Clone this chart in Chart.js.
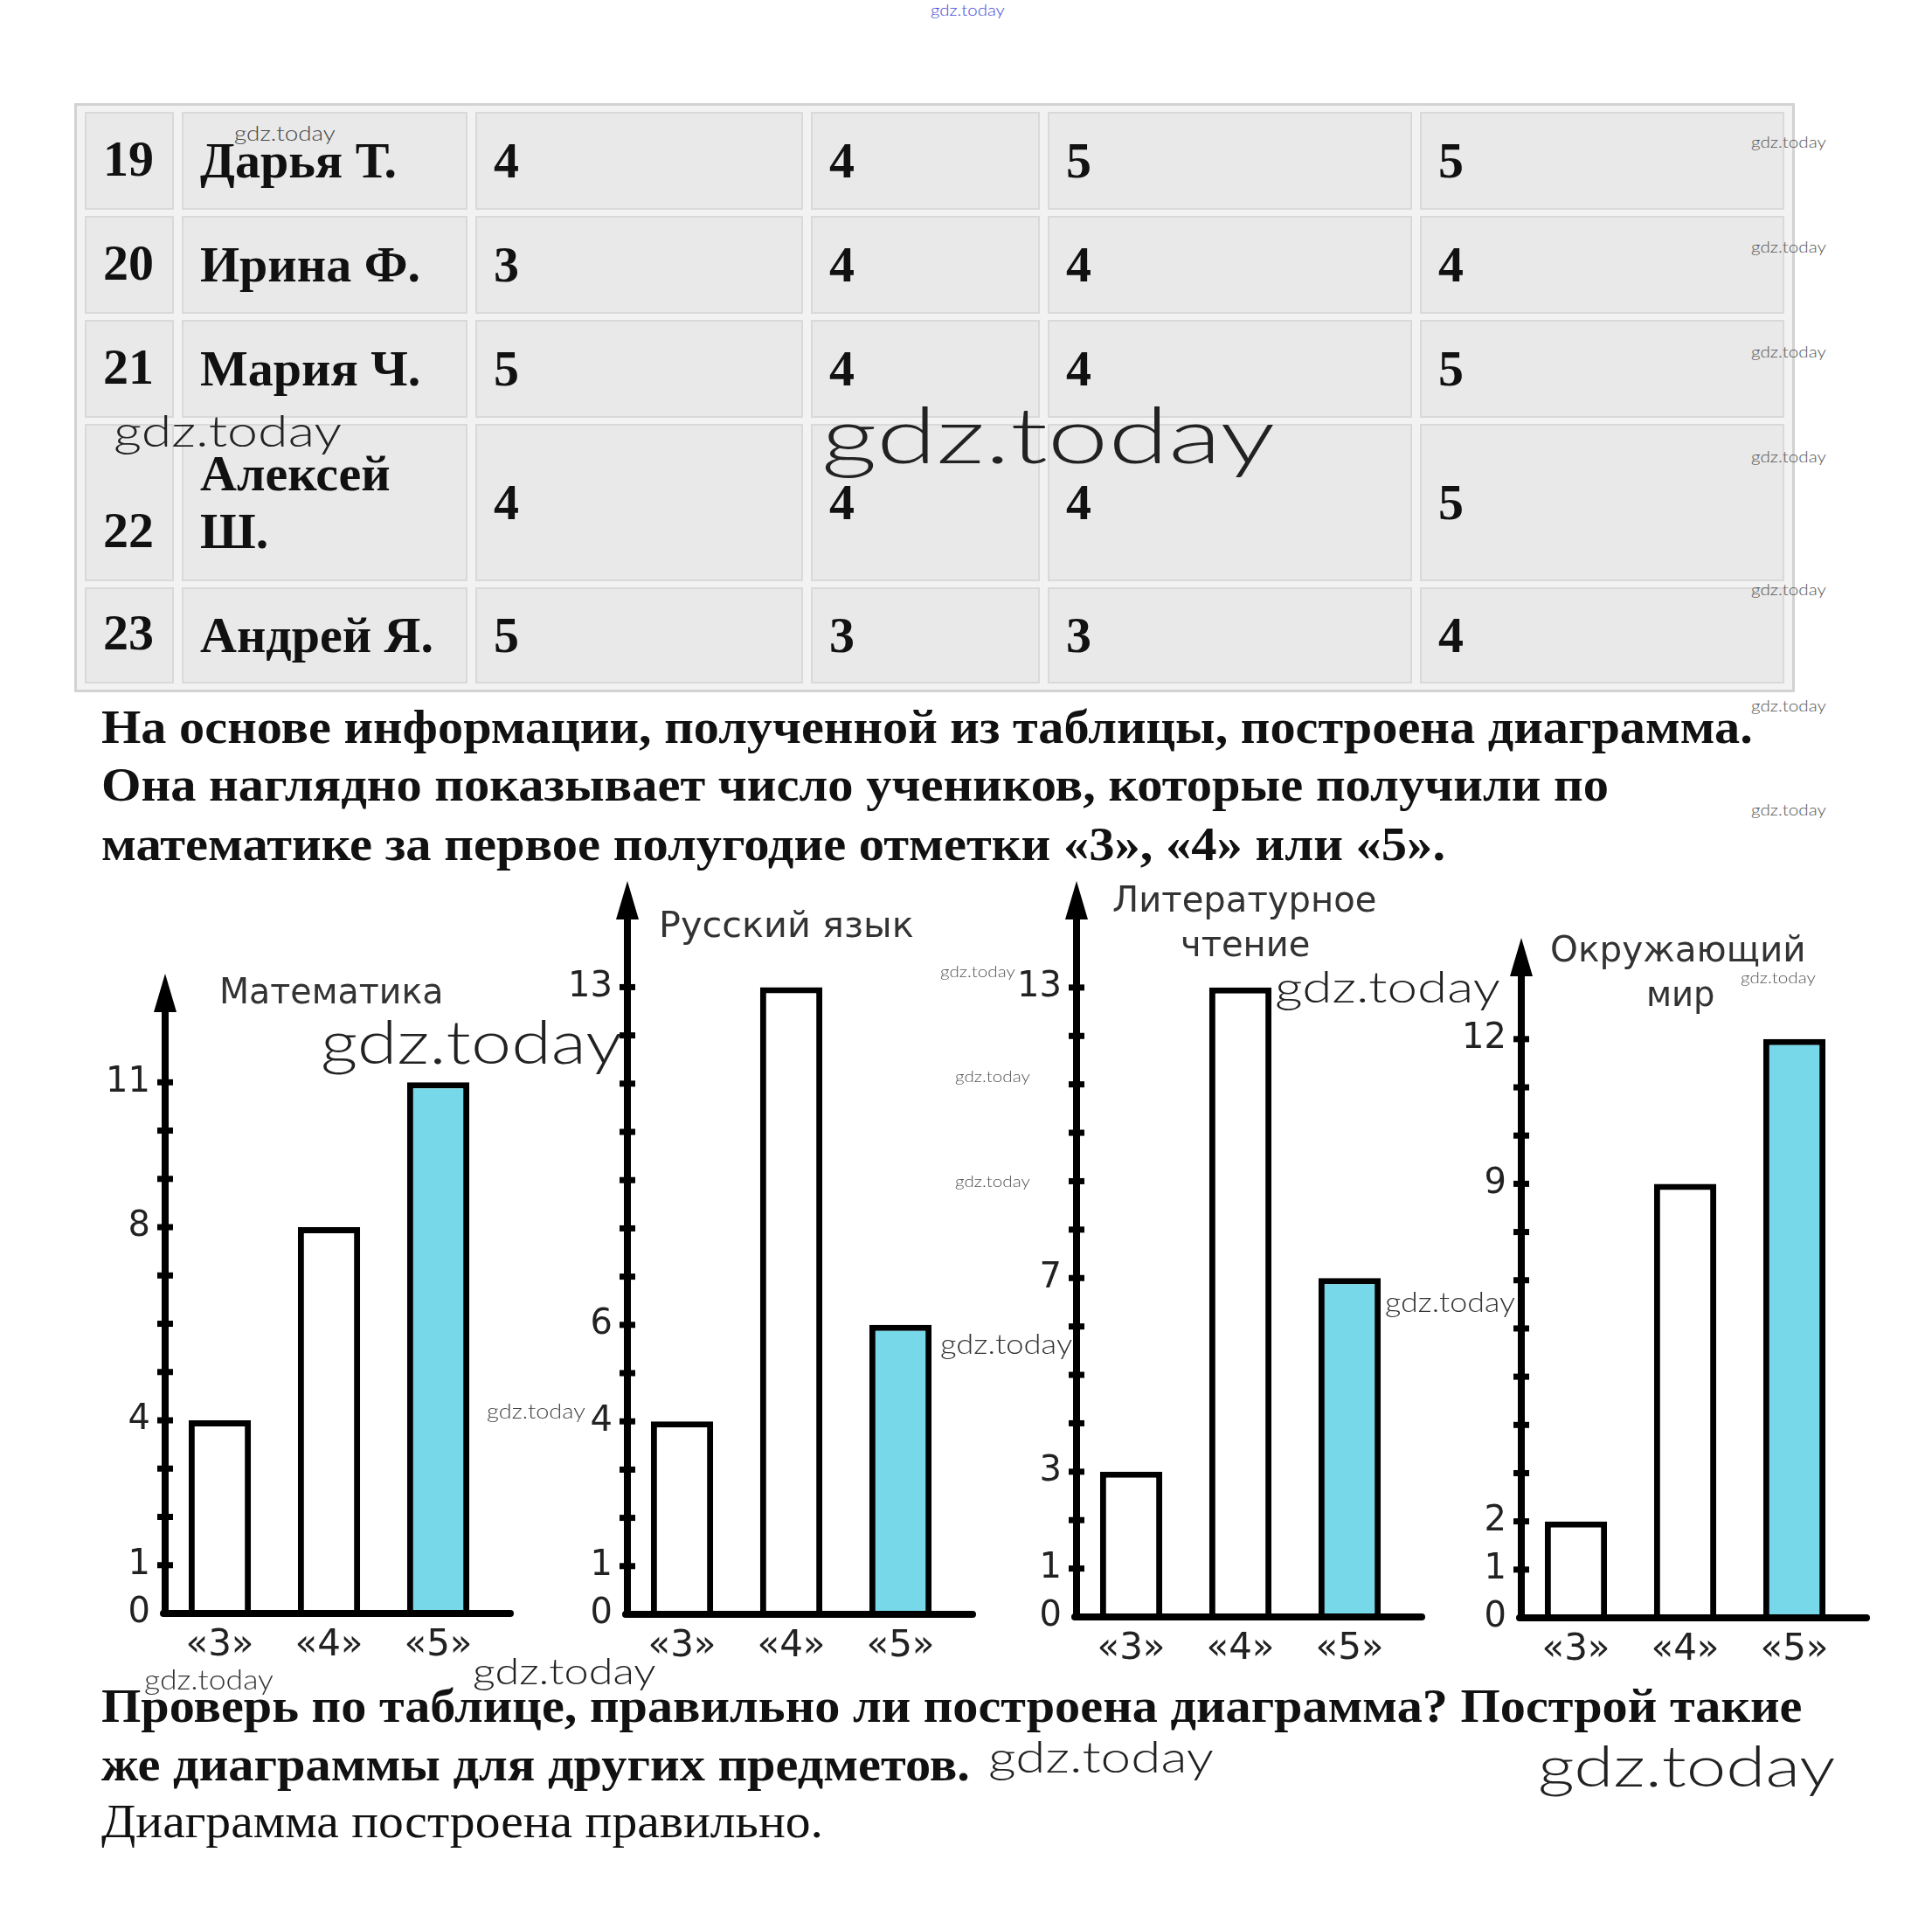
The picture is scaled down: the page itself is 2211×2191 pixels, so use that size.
<!DOCTYPE html>
<html lang="ru">
<head>
<meta charset="utf-8">
<title>Отметки по предметам</title>
<script src="https://cdn.jsdelivr.net/npm/chart.js@4.4.1/dist/chart.umd.min.js"></script>
<style>
  html, body { margin: 0; padding: 0; background: #fff; }
  #page { position: relative; width: 2211px; height: 2191px; overflow: hidden; }
  .txt { position: absolute; white-space: nowrap; line-height: 1; transform-origin: left center; }
  .serif { font-family: 'Liberation Serif', 'Times New Roman', serif; color: #111; }
  .sans { font-family: 'DejaVu Sans', Verdana, sans-serif; color: #333; }
  .wm { font-family: Lato, 'Open Sans', sans-serif; font-weight: 300; }
  .chart-box { position: absolute; }

  #marks {
    position: absolute; left: 85px; top: 118px; width: 1967px; height: 674px;
    box-sizing: border-box; table-layout: fixed;
    border: 3px solid #d2d2d2; border-collapse: separate; border-spacing: 9px 7px;
    background: #f2f2f2;
    font-family: 'Liberation Serif', 'Times New Roman', serif; font-weight: bold;
    font-size: 58px; color: #111;
  }
  #marks td {
    background: #e9e9e9; border: 2px solid #d9d9d9;
    padding: 0 0 0 19px; vertical-align: middle; line-height: 66px;
    white-space: pre-line; box-sizing: border-box;
  }
  #marks td.num { vertical-align: bottom; padding-bottom: 23px; }
</style>
</head>
<body>
<div id="page">
  <table id="marks">
    <colgroup>
      <col style="width:102px"><col style="width:327px"><col style="width:375px">
      <col style="width:262px"><col style="width:417px"><col style="width:417px">
    </colgroup>
    <tbody></tbody>
  </table>

  <div class="chart-box" style="left:109px; top:1104px; width:495px; height:822px;"><canvas id="mathChart"></canvas></div>
  <div class="chart-box" style="left:638px; top:998px; width:495px; height:929px;"><canvas id="russianChart"></canvas></div>
  <div class="chart-box" style="left:1152px; top:998px; width:495px; height:932px;"><canvas id="readingChart"></canvas></div>
  <div class="chart-box" style="left:1661px; top:1063px; width:495px; height:868px;"><canvas id="worldChart"></canvas></div>
</div>

<script>
'use strict';

// ── Table data ───────────────────────────────────────────────
const pupilNums     = [19, 20, 21, 22, 23];
const pupilNames    = ['Дарья Т.', 'Ирина Ф.', 'Мария Ч.', 'Алексей\nШ.', 'Андрей Я.'];
const mathMarks     = [4, 3, 5, 4, 5];
const russianMarks  = [4, 4, 4, 4, 3];
const readingMarks  = [5, 4, 4, 4, 3];
const worldMarks    = [5, 4, 5, 5, 4];

// ── Chart data ───────────────────────────────────────────────
const grades        = ['«3»', '«4»', '«5»'];
const mathCounts    = [4, 8, 11];
const russianCounts = [4, 13, 6];
const readingCounts = [3, 13, 7];
const worldCounts   = [2, 9, 12];
const mathTicks     = [0, 1, 4, 8, 11];
const russianTicks  = [0, 1, 4, 6, 13];
const readingTicks  = [0, 1, 3, 7, 13];
const worldTicks    = [0, 1, 2, 9, 12];

const barFill = ['#ffffff', '#ffffff', '#77d8ea'];

// ── Build table ──────────────────────────────────────────────
(function buildTable() {
  const body = document.querySelector('#marks tbody');
  const rowHeights = [112, 112, 112, 180, 110];
  pupilNums.forEach((n, i) => {
    const tr = document.createElement('tr');
    tr.style.height = rowHeights[i] + 'px';
    const cells = [n, pupilNames[i], mathMarks[i], russianMarks[i], readingMarks[i], worldMarks[i]];
    cells.forEach((v, j) => {
      const td = document.createElement('td');
      if (j === 0) td.className = 'num';
      td.textContent = v;
      tr.appendChild(td);
    });
    body.appendChild(tr);
  });
})();

// ── Text blocks (left, centre y, width, size) ────────────────
const page = document.getElementById('page');

function addText(str, x, yc, w, size, cls, color, weight) {
  const el = document.createElement('div');
  el.className = 'txt ' + cls;
  el.textContent = str;
  el.style.left = x + 'px';
  el.style.top = (yc - size / 2) + 'px';
  el.style.fontSize = size + 'px';
  if (color) el.style.color = color;
  if (weight) el.style.fontWeight = weight;
  page.appendChild(el);
  const natural = el.offsetWidth;
  if (natural > 0) el.style.transform = `scaleX(${w / natural})`;
  return el;
}

addText('На основе информации, полученной из таблицы, построена диаграмма.', 116, 832, 1890, 54, 'serif', null, 'bold');
addText('Она наглядно показывает число учеников, которые получили по', 116, 898, 1725, 54, 'serif', null, 'bold');
addText('математике за первое полугодие отметки «3», «4» или «5».', 116, 966, 1538, 54, 'serif', null, 'bold');
addText('Проверь по таблице, правильно ли построена диаграмма? Построй такие', 116, 1952, 1946, 54, 'serif', null, 'bold');
addText('же диаграммы для других предметов.', 116, 2019, 994, 54, 'serif', null, 'bold');
addText('Диаграмма построена правильно.', 116, 2084, 826, 54, 'serif', null, 'normal');

// chart titles
addText('Математика', 251, 1134, 257, 40, 'sans');
addText('Русский язык', 754, 1058, 292, 40, 'sans');
addText('Литературное', 1273, 1029, 302, 40, 'sans');
addText('чтение', 1351, 1080, 148, 40, 'sans');
addText('Окружающий', 1774, 1086, 293, 40, 'sans');
addText('мир', 1884, 1137, 79, 40, 'sans');

// ── Chart helpers ────────────────────────────────────────────
const arrowAxes = {
  id: 'arrowAxes',
  afterDatasetsDraw(chart) {
    const { ctx, chartArea: a, scales: { y } } = chart;
    const top = Math.max(...chart.data.datasets[0].data);
    const x0 = a.left;
    const y0 = y.getPixelForValue(0);
    ctx.save();
    ctx.strokeStyle = '#000';
    ctx.fillStyle = '#000';
    ctx.lineWidth = 8;
    ctx.lineCap = 'round';

    // vertical axis + arrow head
    ctx.beginPath();
    ctx.moveTo(x0, y0);
    ctx.lineTo(x0, a.top + 30);
    ctx.stroke();
    ctx.beginPath();
    ctx.moveTo(x0, a.top);
    ctx.lineTo(x0 - 13, a.top + 44);
    ctx.lineTo(x0 + 13, a.top + 44);
    ctx.closePath();
    ctx.fill();

    // horizontal axis
    ctx.beginPath();
    ctx.moveTo(x0 - 2, y0);
    ctx.lineTo(a.right + 20, y0);
    ctx.stroke();

    // unit ticks across the axis
    for (let v = 1; v <= top; v++) {
      const py = y.getPixelForValue(v);
      ctx.fillRect(x0 - 9, py - 3.5, 18, 7);
    }
    ctx.restore();
  }
};

const tickFont = { family: "'DejaVu Sans', Verdana, sans-serif", size: 40 };
const gradeFont = { family: "'DejaVu Sans', Verdana, sans-serif", size: 42 };

function buildChart(canvasId, counts, shown, axisTop) {
  return new Chart(document.getElementById(canvasId), {
    type: 'bar',
    data: {
      labels: grades,
      datasets: [{
        data: counts,
        backgroundColor: barFill,
        borderColor: '#000',
        borderWidth: 7,
        barPercentage: 0.57,
        categoryPercentage: 1
      }]
    },
    options: {
      responsive: true,
      maintainAspectRatio: false,
      animation: false,
      layout: { padding: { top: 10, right: 40, left: 0, bottom: 0 } },
      plugins: { legend: { display: false }, tooltip: { enabled: false } },
      scales: {
        x: {
          grid: { display: false, drawTicks: false },
          border: { display: false },
          ticks: { color: '#222', font: gradeFont, padding: 12 },
          afterFit: s => { s.height = 80; }
        },
        y: {
          min: 0,
          max: axisTop,
          grid: { display: false, drawTicks: false },
          border: { display: false },
          ticks: {
            stepSize: 1,
            autoSkip: false,
            color: '#222',
            font: tickFont,
            padding: 17,
            callback: v => shown.includes(v) ? String(v) : null
          },
          afterFit: s => {
            s.width = 80;
            s.paddingTop = 0;
            s.paddingBottom = 0;
          }
        }
      }
    },
    plugins: [arrowAxes]
  });
}

buildChart('mathChart', mathCounts, mathTicks, 13.25);
buildChart('russianChart', russianCounts, russianTicks, 15.2);
buildChart('readingChart', readingCounts, readingTicks, 15.2);
buildChart('worldChart', worldCounts, worldTicks, 14.1);

// ── Watermarks ───────────────────────────────────────────────
const smallMarksY = [162, 282, 402, 522, 674, 807, 926];
addText('gdz.today', 1065, 11, 85, 18, 'wm', '#4848d8');
addText('gdz.today', 268, 152, 116, 24, 'wm', '#444');
smallMarksY.forEach(yc => addText('gdz.today', 2004, yc, 86, 18, 'wm', '#555'));
addText('gdz.today', 130, 492, 261, 50, 'wm', '#222');
addText('gdz.today', 940, 496, 519, 88, 'wm', '#222');
addText('gdz.today', 367, 1191, 345, 68, 'wm', '#222');
addText('gdz.today', 1076, 1111, 86, 18, 'wm', '#555');
addText('gdz.today', 1093, 1231, 86, 18, 'wm', '#555');
addText('gdz.today', 1093, 1351, 86, 18, 'wm', '#555');
addText('gdz.today', 557, 1614, 113, 24, 'wm', '#444');
addText('gdz.today', 1076, 1537, 151, 32, 'wm', '#333');
addText('gdz.today', 1459, 1128, 258, 49, 'wm', '#222');
addText('gdz.today', 1585, 1489, 149, 32, 'wm', '#333');
addText('gdz.today', 1992, 1118, 86, 18, 'wm', '#555');
addText('gdz.today', 165, 1921, 148, 31, 'wm', '#333');
addText('gdz.today', 541, 1911, 210, 42, 'wm', '#222');
addText('gdz.today', 1131, 2009, 258, 50, 'wm', '#222');
addText('gdz.today', 1760, 2019, 341, 66, 'wm', '#222');
</script>
</body>
</html>
